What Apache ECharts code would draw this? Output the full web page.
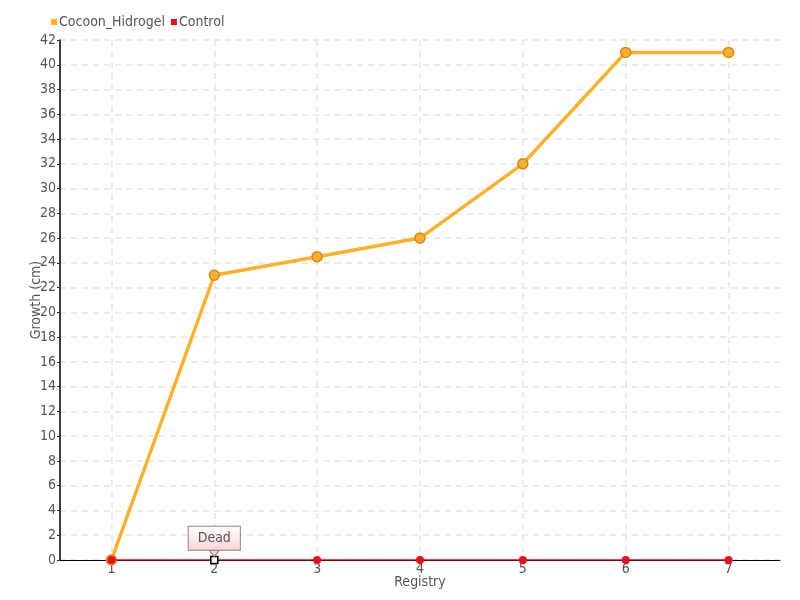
<!DOCTYPE html>
<html><head><meta charset="utf-8">
<script src="https://cdn.jsdelivr.net/npm/echarts@6/dist/echarts.min.js"></script>
<style>html,body{margin:0;padding:0;background:#fff}#c{width:800px;height:600px}</style>
</head><body><div id="c"></div>
<script>
const categories = ['1','2','3','4','5','6','7'];
const cocoonValues = [0, 23, 24.5, 26, 32, 41, 41];
const controlValues = [0, 0, 0, 0, 0, 0, 0];
const deadIndex = 1;
const deadLabel = 'Dead';

const FONT = "'DejaVu Sans Condensed','Liberation Sans Narrow','Roboto',sans-serif";
const chart = echarts.init(document.getElementById('c'));
const controlData = controlValues.map((v, i) => i === deadIndex ? {
  value: v,
  symbol: 'rect', symbolSize: 7,
  itemStyle: {color: '#fff', borderColor: '#000', borderWidth: 1.5},
  label: {
    show: true, position: 'top', distance: 6, formatter: deadLabel,
    fontFamily: FONT, fontSize: 14, color: '#555',
    padding: [5, 9, 4, 9], borderColor: '#888', borderWidth: 1,
    backgroundColor: new echarts.graphic.LinearGradient(0,0,0,1,[{offset:0,color:'#fff'},{offset:1,color:'#fcd4d4'}])
  }
} : v);
chart.setOption({
  animation: false,
  textStyle: {fontFamily: FONT},
  legend: {
    left: 46, top: 10, itemWidth: 6, itemHeight: 6, itemGap: 6,
    icon: 'rect',
    itemStyle: {borderWidth: 0},
    textStyle: {fontFamily: FONT, fontSize: 14, color: '#555', padding: [0,0,0,-3]},
    data: ['Cocoon_Hidrogel', 'Control']
  },
  grid: {left: 60, right: 20, top: 40, bottom: 40},
  xAxis: {
    type: 'category', data: categories, boundaryGap: true,
    name: 'Registry', nameLocation: 'middle', nameGap: 15, nameMoveOverlap: false,
    nameTextStyle: {fontFamily: FONT, fontSize: 14, color: '#555'},
    axisLine: {lineStyle: {color: '#000', width: 1}},
    axisTick: {show: true, alignWithLabel: true, length: 3, lineStyle: {color: '#999'}},
    axisLabel: {fontFamily: FONT, fontSize: 14, color: '#555', margin: 2},
    splitLine: {show: true, alignWithLabel: true, lineStyle: {color: '#e6e6e6', type: [6, 5], width: 1.5}}
  },
  yAxis: {
    type: 'value', min: 0, max: 42, interval: 2,
    name: 'Growth (cm)', nameLocation: 'middle', nameGap: 17, nameMoveOverlap: false,
    nameTextStyle: {fontFamily: FONT, fontSize: 14, color: '#555'},
    axisLine: {show: true, lineStyle: {color: '#000', width: 1.5}},
    axisTick: {show: true, length: 3, lineStyle: {color: '#333'}},
    axisLabel: {fontFamily: FONT, fontSize: 14, color: '#555', margin: 4},
    splitLine: {show: true, lineStyle: {color: '#e6e6e6', type: [6, 5], width: 1.5}}
  },
  series: [
    {
      name: 'Cocoon_Hidrogel', type: 'line', data: cocoonValues,
      symbol: 'circle', symbolSize: 10, showAllSymbol: true,
      color: '#FDB02A',
      lineStyle: {color: '#FDB02A', width: 3.5},
      itemStyle: {color: '#FDB02A', borderColor: '#D4891A', borderWidth: 1.5},
      z: 2
    },
    {
      name: 'Control', type: 'line', data: controlData,
      symbol: 'circle', symbolSize: 8, showAllSymbol: true,
      color: '#E8101C',
      lineStyle: {color: '#D0101A', width: 1.5},
      itemStyle: {color: '#E8101C', borderColor: '#C00', borderWidth: 0},
      markPoint: {
        silent: true,
        symbol: 'path://M0,0 L10,0 L5,6 Z',
        symbolSize: [10, 6],
        symbolOffset: [0, -6.5],
        itemStyle: {color: '#fcd4d4', borderColor: '#888', borderWidth: 1},
        label: {show: false},
        data: [{coord: [deadIndex, controlValues[deadIndex]]}],
        z: 10
      },
      z: 3
    }
  ]
});
</script></body></html>
